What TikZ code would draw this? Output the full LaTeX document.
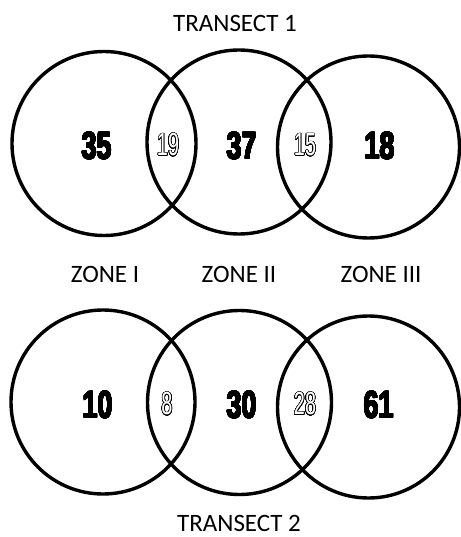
\documentclass[tikz,border=0pt]{standalone}
\usepackage{fontspec}
\setmainfont{Carlito}
\newfontfamily\numfont{Liberation Sans}[FakeStretch=0.70]
\newfontfamily\outfont{Liberation Sans}[FakeStretch=0.62]
\usepackage{contour}
\contournumber{32}
\newcommand\hollow[1]{\contourlength{0.55pt}\contour{black}{\textcolor{white}{#1}}}
\newcommand\heavy[1]{\contourlength{0.45pt}\contour{black}{#1}}
\begin{document}
\begin{tikzpicture}[x=1pt,y=-1pt,
  ring/.style={circle, draw, line width=3.4pt, minimum size=184pt, inner sep=0pt},
  big/.style={inner sep=0pt, font=\numfont\bfseries\fontsize{38}{38}\selectfont},
  shared/.style={inner sep=0pt, font=\outfont\fontsize{32}{32}\selectfont},
  lab/.style={inner sep=0pt, font=\fontsize{25}{25}\selectfont}]
\useasboundingbox[fill=white] (0,0) rectangle (460,537);
% titles
\node[lab] (t1) at (235,23) {TRANSECT 1};
\node[lab] (t2) at (239,523) {TRANSECT 2};
% zone labels
\node[lab] (z1) at (105,274) {ZONE I};
\node[lab] (z2) at (239,274) {ZONE II};
\node[lab] (z3) at (381,274) {ZONE III};
% top circles
\node[ring] (a1) at (104,143.5) {};
\node[ring] (a2) at (239,142) {};
\node[ring, minimum size=182pt] (a3) at (368.5,147) {};
% bottom circles
\node[ring] (b1) at (103,402) {};
\node[ring] (b2) at (239.5,402.5) {};
\node[ring, minimum size=182pt] (b3) at (368.5,407) {};
% top numbers
\node[big] (n35) at (97,146) {\heavy{35}};
\node[shared] (n19) at (168,145) {\hollow{19}};
\node[big] (n37) at (242,146) {\heavy{37}};
\node[shared] (n15) at (305,145) {\hollow{15}};
\node[big] (n18) at (380,146) {\heavy{18}};
% bottom numbers
\node[big] (n10) at (98,405) {\heavy{10}};
\node[shared] (n8) at (167,404) {\hollow{8}};
\node[big] (n30) at (242,405) {\heavy{30}};
\node[shared] (n28) at (305,404) {\hollow{28}};
\node[big] (n61) at (379,405) {\heavy{61}};
\end{tikzpicture}
\end{document}
